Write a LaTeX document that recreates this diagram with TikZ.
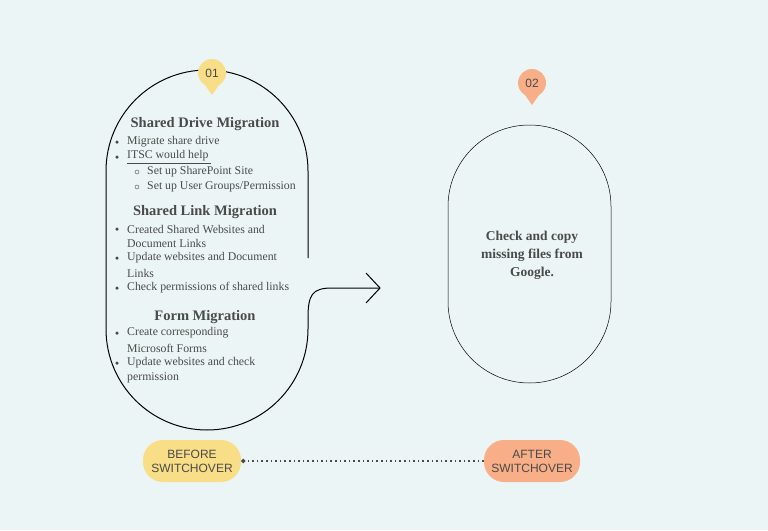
\documentclass[tikz,border=0pt]{standalone}
\usepackage{fontspec}
\setmainfont{Liberation Serif}
\newfontfamily\pillfont{Liberation Sans}
\usetikzlibrary{arrows.meta}
\definecolor{bg}{HTML}{ECF5F5}
\definecolor{yel}{HTML}{F8DE86}
\definecolor{ora}{HTML}{F8AE86}
\definecolor{txt}{HTML}{4A4A4A}
\tikzset{
  item/.style={anchor=west,inner sep=0pt,text=txt,font=\fontsize{11.8}{12}\selectfont},
  head/.style={inner sep=0pt,text=txt,font=\bfseries\fontsize{14.5}{15}\selectfont},
  dotb/.style={circle,fill=txt,inner sep=0pt,minimum size=3.5pt},
  circb/.style={circle,draw=txt,thin,inner sep=0pt,minimum size=4pt},
  pill/.style={rounded corners=20pt,minimum width=98pt,minimum height=42pt,align=center,inner sep=0pt,text=txt,font=\pillfont\fontsize{12}{14}\selectfont},
  badge/.style={circle,minimum size=28pt,inner sep=0pt,text=txt,font=\pillfont\fontsize{12}{12}\selectfont}
}
\begin{document}
\begin{tikzpicture}[x=1pt,y=-1pt]
\fill[bg] (0,0) rectangle (768,530);
\useasboundingbox (0,0) rectangle (768,530);
% left stadium
\draw[black,line width=1pt] (308,258) -- (308,171) arc[start angle=0,end angle=-180,radius=101] -- (106,329) arc[start angle=180,end angle=0,radius=101] -- (308,318);
% arrow
\coordinate (ar) at (380,288);
\draw[black,line width=1pt] (308,318) .. controls (308,295) and (312,288) .. (332,288) -- (ar);
\draw[black,line width=1pt] (366,273) -- (ar) -- (366,303);
% right stadium
\draw[black,line width=0.5pt] (448,206.5) arc[start angle=180,end angle=360,radius=81.5] -- (611,301.5) arc[start angle=0,end angle=180,radius=81.5] -- cycle;
% badges
\fill[yel] (205,85) -- (212,95) -- (219,85) -- cycle;
\node[badge,fill=yel] (b1) at (212,73) {01};
\fill[ora] (525,95) -- (532,105) -- (539,95) -- cycle;
\node[badge,fill=ora] (b2) at (532,83) {02};
% left texts
\node[head] (h1) at (205,124) {Shared Drive Migration};
\node[dotb] (d1) at (117,142) {}; \node[item] (t1) at (127,142) {Migrate share drive};
\node[dotb] (d2) at (117,157) {}; \node[item] (t2) at (127,157) {\underline{ITSC would help\ }};
\node[circb] (c1) at (137,172) {}; \node[item] (t3) at (147,172) {Set up SharePoint Site};
\node[circb] (c2) at (137,187) {}; \node[item] (t4) at (147,187) {Set up User Groups/Permission};
\node[head] (h2) at (205,212) {Shared Link Migration};
\node[dotb] (d3) at (117,229) {}; \node[item] (t5) at (127,229) {Created Shared Websites and};
\node[item] (t6) at (127,243) {Document Links};
\node[dotb] (d4) at (117,258) {}; \node[item] (t7) at (127,258) {Update websites and Document};
\node[item] (t8) at (127,273) {Links};
\node[dotb] (d5) at (117,288) {}; \node[item] (t9) at (127,288) {Check permissions of shared links};
\node[head] (h3) at (205,317) {Form Migration};
\node[dotb] (d6) at (117,333) {}; \node[item] (t10) at (127,333) {Create corresponding};
\node[item] (t11) at (127,348) {Microsoft Forms};
\node[dotb] (d7) at (117,363) {}; \node[item] (t12) at (127,363) {Update websites and check};
\node[item] (t13) at (127,378) {permission};
% right text
\node[align=center,text=txt,font=\bfseries\fontsize{13.5}{18}\selectfont] (rt) at (532,255) {Check and copy\\missing files from\\Google.};
% pills
\node[pill,fill=yel] (p1) at (192,461) {BEFORE\\SWITCHOVER};
\node[pill,fill=ora,minimum width=96pt] (p2) at (532,461) {AFTER\\SWITCHOVER};
\draw[txt,line width=1.6pt,dash pattern=on 1.6pt off 3pt,-{Circle[length=4pt]}] (p2.west) -- (p1.east);
\end{tikzpicture}
\end{document}
